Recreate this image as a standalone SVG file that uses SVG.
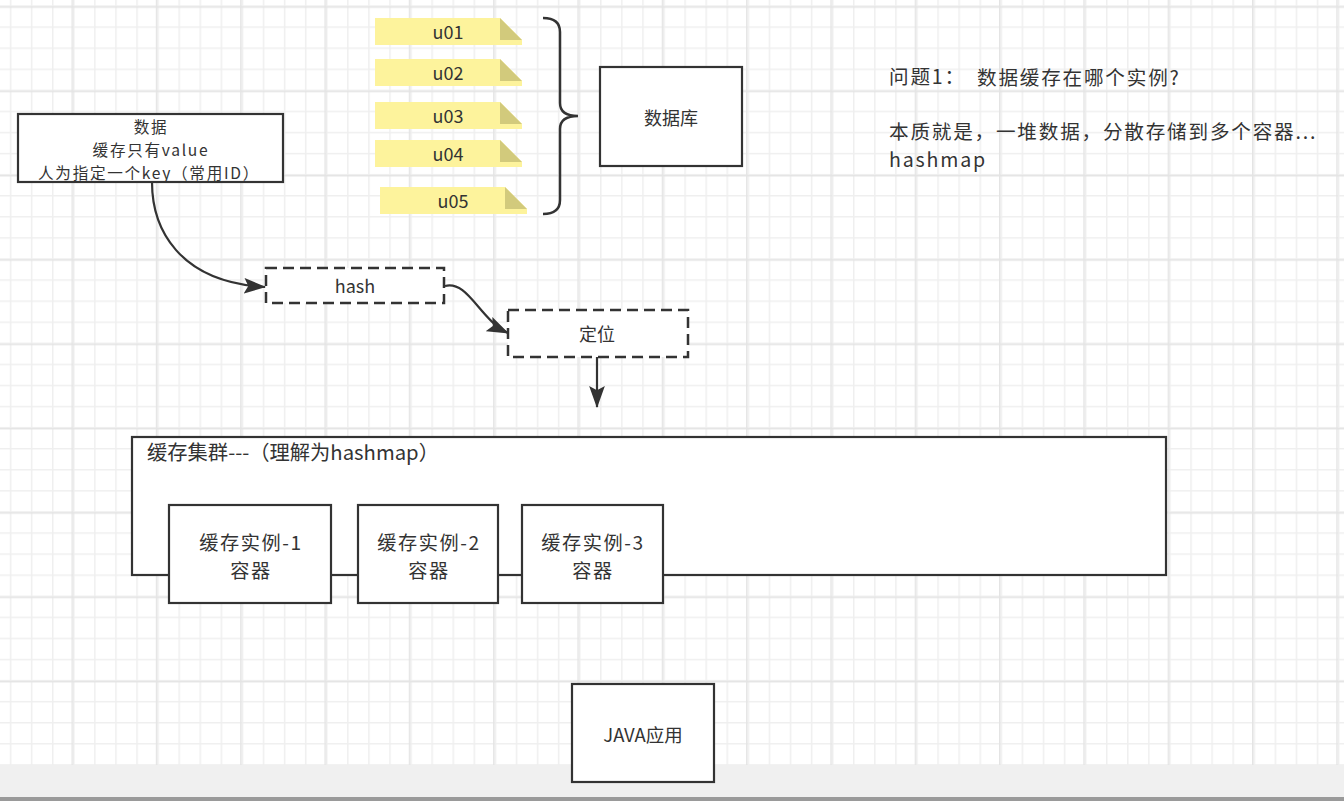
<svg xmlns="http://www.w3.org/2000/svg" xmlns:xlink="http://www.w3.org/1999/xlink" width="1344" height="801" viewBox="0 0 1344 801">
<style>
text{font-family:"Noto Sans CJK SC","Noto Sans",sans-serif;fill:#333;dominant-baseline:central}
.c{text-anchor:middle}
.box{fill:#fff;stroke:#333;stroke-width:2.2}
.dash{fill:#fff;stroke:#333;stroke-width:2.5;stroke-dasharray:11 6}
.note{fill:#fdf39c}
.fold{fill:#d2ca7c}
.edge{fill:none;stroke:#333;stroke-width:2.2}
.d{font-size:15.6px;letter-spacing:1.7px}
.i{font-size:19.2px;letter-spacing:1.6px}
.q{font-size:19.6px;letter-spacing:1.8px}
</style>
<defs>
<pattern id="minor" patternUnits="userSpaceOnUse" x="9.8" y="5.3" width="21.08" height="21.08">
<path d="M0.75 0V21.08M0 0.75H21.08" stroke="#efefef" stroke-width="1.5"/>
</pattern>
<pattern id="major" patternUnits="userSpaceOnUse" x="71.5" y="6.3" width="84.32" height="84.32">
<path d="M0.75 0V84.32M0 0.75H84.32" stroke="#e4e4e4" stroke-width="1.5"/>
</pattern>
<marker id="arr" markerUnits="userSpaceOnUse" markerWidth="22" markerHeight="16" viewBox="0 0 21 15" refX="20" refY="7.5" orient="auto">
<path d="M0,0 L21,7.5 L0,15 L4,7.5 z" fill="#333"/>
</marker>
<g id="notebg">
<polygon class="note" points="0,0 125,0 147,22 147,27 0,27"/>
<polygon class="fold" points="125,0 125,22 147,22"/>
</g>
</defs>
<rect width="1344" height="765" fill="#fff"/>
<rect width="1344" height="765" fill="url(#minor)"/>
<rect width="1344" height="765" fill="url(#major)"/>
<rect y="765" width="1344" height="32" fill="#f0f0f0"/>
<rect y="797" width="1344" height="4" fill="#9a9a9a"/>

<g id="notes">
<g id="u01"><use xlink:href="#notebg" x="375" y="18"/><text class="c" x="448" y="31" font-size="18">u01</text></g>
<g id="u02"><use xlink:href="#notebg" x="375" y="59"/><text class="c" x="448" y="71.5" font-size="18">u02</text></g>
<g id="u03"><use xlink:href="#notebg" x="375" y="102"/><text class="c" x="448" y="114.5" font-size="18">u03</text></g>
<g id="u04"><use xlink:href="#notebg" x="375" y="140"/><text class="c" x="448" y="152.5" font-size="18">u04</text></g>
<g id="u05"><use xlink:href="#notebg" x="380" y="187"/><text class="c" x="453" y="199.5" font-size="18">u05</text></g>
</g>

<g id="brace">
<path d="M543 18 Q560 18 560 32 L560 103 Q560 116 578 116 Q560 116 560 129 L560 200 Q560 214 543 214" fill="none" stroke="#333" stroke-width="2.5"/>
</g>

<g id="db">
<rect class="box" x="600" y="67" width="142" height="99"/>
<text class="c" x="671" y="116.5" font-size="18">数据库</text>
</g>

<g id="data">
<rect class="box" x="18" y="114" width="265" height="68"/>
<text class="c d" x="151" y="126">数据</text>
<text class="c d" x="151" y="149">缓存只有value</text>
<text class="c d" x="149" y="172">人为指定一个key（常用ID）</text>
</g>

<g id="hash">
<rect class="dash" x="266" y="268" width="178" height="35"/>
<text class="c" x="355" y="285" font-size="18">hash</text>
</g>

<g id="locate">
<rect class="dash" x="508" y="310" width="180" height="47"/>
<text class="c" x="597" y="333" font-size="18">定位</text>
</g>

<g id="connectors">
<path class="edge" d="M152 182 C152 228 178 282 265 287" marker-end="url(#arr)"/>
<path class="edge" d="M445 286 C468 280 480 320 508 333" marker-end="url(#arr)"/>
<path class="edge" d="M597 357 L597 407" marker-end="url(#arr)"/>
</g>

<g id="cluster">
<rect class="box" x="132" y="437" width="1034" height="138"/>
<text x="147" y="451" font-size="20.3">缓存集群---（理解为hashmap）</text>
</g>

<g id="inst1">
<rect class="box" x="169" y="505" width="162" height="98"/>
<text class="c i" x="251" y="542">缓存实例-1</text>
<text class="c i" x="251" y="570">容器</text>
</g>
<g id="inst2">
<rect class="box" x="358" y="505" width="140" height="98"/>
<text class="c i" x="429" y="542">缓存实例-2</text>
<text class="c i" x="429" y="570">容器</text>
</g>
<g id="inst3">
<rect class="box" x="522" y="505" width="141" height="98"/>
<text class="c i" x="593" y="542">缓存实例-3</text>
<text class="c i" x="593" y="570">容器</text>
</g>

<g id="java">
<rect class="box" x="572" y="684" width="142" height="98"/>
<text class="c" x="643" y="733.5" font-size="18.5">JAVA应用</text>
</g>

<g id="question">
<text class="q" x="889" y="75.5">问题1：<tspan x="977">数据缓存在哪个实例?</tspan></text>
<text class="q" x="889" y="130">本质就是，一堆数据，分散存储到多个容器...</text>
<text class="q" x="889" y="158.5">hashmap</text>
</g>
</svg>
